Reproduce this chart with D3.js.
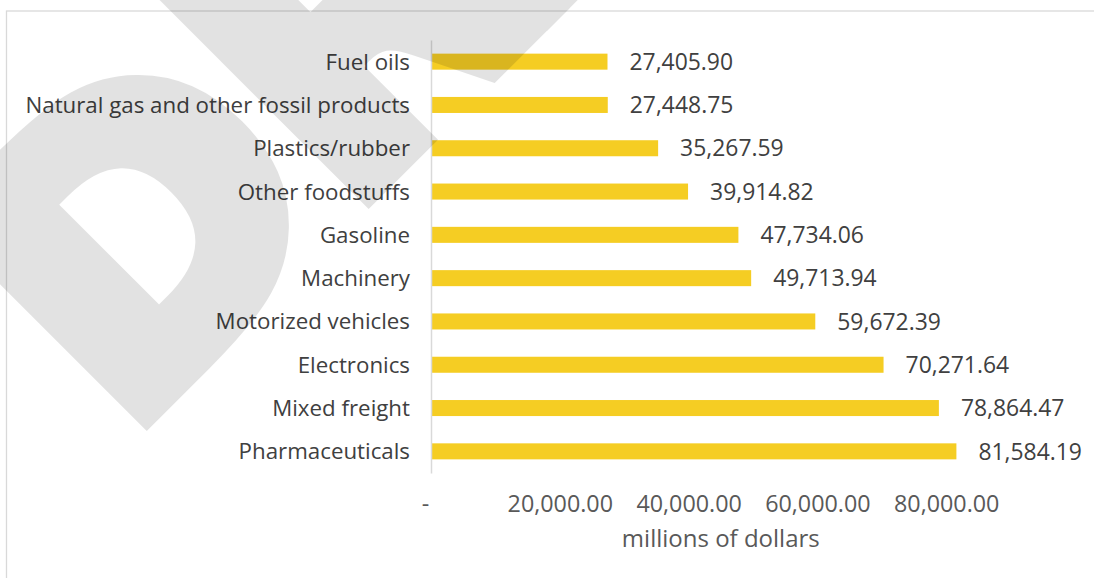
<!DOCTYPE html>
<html>
<head>
<meta charset="utf-8">
<script src="https://cdn.jsdelivr.net/npm/d3@7"></script>
<style>
  html, body { margin: 0; padding: 0; background: #fff; }
  svg { display: block; }
</style>
</head>
<body>
<svg id="chart" width="1094" height="578"></svg>
<script>
// Commodity categories, top to bottom
const categories = [
  "Fuel oils",
  "Natural gas and other fossil products",
  "Plastics/rubber",
  "Other foodstuffs",
  "Gasoline",
  "Machinery",
  "Motorized vehicles",
  "Electronics",
  "Mixed freight",
  "Pharmaceuticals"
];

// Value per category, millions of dollars
const values = [
  27405.90, 27448.75, 35267.59, 39914.82, 47734.06,
  49713.94, 59672.39, 70271.64, 78864.47, 81584.19
];

// Horizontal axis ticks and their labels
const tickValues = [0, 20000, 40000, 60000, 80000];
const tickLabels = ["-", "20,000.00", "40,000.00", "60,000.00", "80,000.00"];

const axisTitle = "millions of dollars";
const watermarkText = "DRAFT";

const FONT = "'Open Sans', Lato, sans-serif";
const LABEL_SIZE = 22.3;
const NUMBER_SIZE = 22.9;
const BAR_COLOR = "#F5CD23";
const TEXT_COLOR = "#404040";
const AXIS_TEXT_COLOR = "#595959";
const GRID_COLOR = "#D9D9D9";

const svg = d3.select("#chart");

const data = categories.map((c, i) => ({ category: c, value: values[i] }));

const x = d3.scaleLinear().domain([0, 90000]).range([431, 1010.6]);
const y = d3.scaleBand()
  .domain(categories)
  .range([40, 473])
  .paddingInner(0.63)
  .paddingOuter(0.315);

// Chart frame
svg.append("rect")
  .attr("x", 6.5).attr("y", 11)
  .attr("width", 1200).attr("height", 700)
  .attr("fill", "none")
  .attr("stroke", GRID_COLOR)
  .attr("stroke-width", 1.3);

// Bars
svg.append("g")
  .selectAll("rect")
  .data(data)
  .join("rect")
  .attr("x", x(0) + 1)
  .attr("y", d => y(d.category))
  .attr("width", d => x(d.value) - x(0) - 1)
  .attr("height", y.bandwidth())
  .attr("fill", BAR_COLOR);

// Category axis
const yAxis = svg.append("g")
  .attr("transform", `translate(${x(0)},0)`)
  .call(d3.axisLeft(y).tickSize(0).tickSizeOuter(0).tickPadding(21));
yAxis.select(".domain").attr("stroke", GRID_COLOR).attr("stroke-width", 1.5);
yAxis.selectAll("text")
  .attr("font-family", FONT)
  .attr("font-size", LABEL_SIZE)
  .attr("dy", "0.36em")
  .attr("fill", TEXT_COLOR);

// Value axis (labels only)
const xAxis = svg.append("g")
  .attr("transform", `translate(0,${y.range()[1]})`)
  .call(d3.axisBottom(x)
    .tickValues(tickValues)
    .tickFormat((d, i) => tickLabels[i])
    .tickSize(0)
    .tickPadding(22));
xAxis.select(".domain").remove();
xAxis.selectAll("text")
  .attr("font-family", FONT)
  .attr("font-size", 23.3)
  .attr("fill", AXIS_TEXT_COLOR)
  .attr("dx", d => d === 0 ? -6 : 0);

// Axis title
svg.append("text")
  .attr("x", (x.range()[0] + x.range()[1]) / 2)
  .attr("y", 547)
  .attr("text-anchor", "middle")
  .attr("font-family", FONT)
  .attr("font-size", 24)
  .attr("fill", AXIS_TEXT_COLOR)
  .text(axisTitle);

// Value labels
const fmt = d3.format(",.2f");
svg.append("g")
  .selectAll("text")
  .data(data)
  .join("text")
  .attr("x", d => x(d.value) + 22)
  .attr("y", d => y(d.category) + y.bandwidth() / 2)
  .attr("dy", "0.36em")
  .attr("font-family", FONT)
  .attr("font-size", NUMBER_SIZE)
  .attr("fill", TEXT_COLOR)
  .text(d => fmt(d.value));

// Watermark across the sheet
const wm = svg.append("g")
  .attr("opacity", 0.11)
  .attr("transform", "translate(147,430) rotate(-45)");
wm.append("text")
  .attr("x", -22)
  .attr("y", -13)
  .attr("font-family", "'DejaVu Sans', sans-serif")
  .attr("font-weight", "bold")
  .attr("font-size", 378)
  .attr("fill", "#000")
  .attr("stroke", "#000")
  .attr("stroke-width", 27)
  .attr("stroke-linejoin", "miter")
  .text(watermarkText);
</script>
</body>
</html>
